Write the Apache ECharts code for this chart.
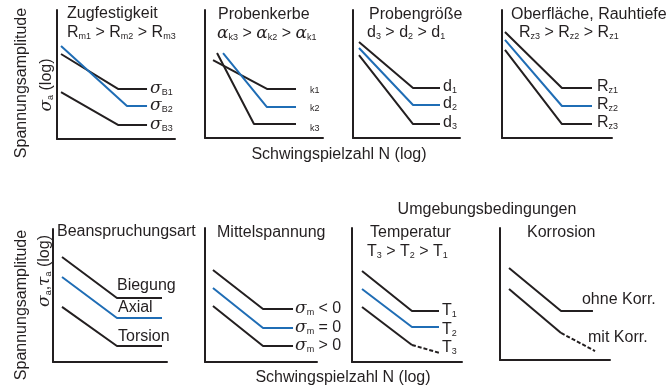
<!DOCTYPE html>
<html><head><meta charset="utf-8">
<script src="https://cdn.jsdelivr.net/npm/echarts@6/dist/echarts.min.js"></script>
<style>html,body{margin:0;padding:0;background:#fff}#c{width:672px;height:390px}</style>
</head><body><div id="c"></div>
<script>
// ---- data (log N, log sigma) on a 0..10 schematic scale ----
const zugB1 = [[0.34,6.59],[5.17,3.88],[7.63,3.88]];
const zugB2 = [[0.34,7.21],[5.93,2.56],[7.63,2.56]];
const zugB3 = [[0.34,3.64],[5.17,1.09],[7.63,1.09]];

const kerbK1 = [[0.68,6.09],[5.25,3.83],[7.71,3.83]];
const kerbK2 = [[1.53,6.64],[5.25,2.42],[7.71,2.42]];
const kerbK3 = [[1.02,6.64],[4.15,1.09],[7.71,1.09]];

const groesseD1 = [[0.56,7.50],[5.61,3.91],[8.13,3.91]];
const groesseD2 = [[0.56,7.03],[5.61,2.58],[8.13,2.58]];
const groesseD3 = [[0.56,6.48],[5.61,1.09],[8.13,1.09]];

const rauhRz1 = [[0.27,8.28],[5.45,3.91],[8.18,3.91]];
const rauhRz2 = [[0.27,7.66],[5.45,2.50],[8.18,2.50]];
const rauhRz3 = [[0.27,6.88],[5.45,1.09],[8.18,1.09]];

const artBiegung = [[0.79,7.89],[5.61,4.81],[9.56,4.81]];
const artAxial   = [[0.79,6.39],[5.61,3.31],[9.56,3.31]];
const artTorsion = [[0.79,4.14],[5.61,1.20],[9.56,1.20]];

const mittelNeg  = [[0.71,6.87],[5.18,3.96],[7.86,3.96]];
const mittelNull = [[0.71,5.52],[5.18,2.54],[7.86,2.54]];
const mittelPos  = [[0.71,4.18],[5.18,1.19],[7.86,1.19]];

const tempT1 = [[0.91,6.79],[5.45,3.81],[7.91,3.81]];
const tempT2 = [[0.91,5.45],[5.45,2.61],[7.91,2.61]];
const tempT3Solid  = [[0.91,4.10],[5.45,1.27]];
const tempT3Dashed = [[5.45,1.27],[8.00,0.67]];

const korrOhne = [[0.82,6.97],[5.55,3.71],[8.45,3.71]];
const korrMitSolid  = [[0.82,5.38],[5.55,2.05]];
const korrMitDashed = [[5.55,2.05],[8.64,0.68]];

// ---- styles ----
const FONT = 'Liberation Sans';
const BLACK = '#231f20', BLUE = '#1f6db5';
const rich = {
  m: {fontSize:16, fontFamily:FONT, color:BLACK, fill:BLACK, lineHeight:16, verticalAlign:'bottom'},
  s: {fontSize:9, fontFamily:FONT, color:BLACK, fill:BLACK, lineHeight:9, verticalAlign:'bottom'},
  g: {fontSize:17, fontFamily:'DejaVu Serif', fontStyle:'italic', color:BLACK, fill:BLACK, lineHeight:16, verticalAlign:'bottom'},
  k: {fontSize:9, fontFamily:FONT, color:BLACK, fill:BLACK, lineHeight:10}
};

const grids = [
  {left:57,  top:10,  width:118, height:129},
  {left:205, top:10,  width:118, height:128},
  {left:353, top:10,  width:107, height:128},
  {left:502, top:10,  width:110, height:128},
  {left:53,  top:229, width:114, height:133},
  {left:205, top:228, width:112, height:134},
  {left:352, top:228, width:110, height:134},
  {left:500, top:228, width:110, height:132}
];
const axisCommon = {type:'value', min:0, max:10,
  axisLine:{show:true, onZero:false, lineStyle:{color:BLACK, width:2}},
  axisTick:{show:false}, axisLabel:{show:false}, splitLine:{show:false}};

const series = [];
function curve(g, data, color, text, offset, dashed) {
  series.push({
    type:'line', xAxisIndex:g, yAxisIndex:g, data:data, symbol:'none', silent:true,
    lineStyle:{color:color, width:2, type: dashed ? [4,2] : 'solid'},
    endLabel: text ? {show:true, formatter:text, distance:0, offset:offset || [0,0],
      align:'left', verticalAlign:'middle', rich:rich} : {show:false}
  });
}
curve(0, zugB1, BLACK, '{g|σ}{s|B1}', [3,0]);
curve(0, zugB2, BLUE,  '{g|σ}{s|B2}', [3,0]);
curve(0, zugB3, BLACK, '{g|σ}{s|B3}', [3,0]);

curve(1, kerbK1, BLACK, '{k|k1}', [14,2]);
curve(1, kerbK2, BLUE,  '{k|k2}', [14,1]);
curve(1, kerbK3, BLACK, '{k|k3}', [14,4]);

curve(2, groesseD1, BLACK, '{m|d}{s|1}', [3,-1]);
curve(2, groesseD2, BLUE,  '{m|d}{s|2}', [3,-1]);
curve(2, groesseD3, BLACK, '{m|d}{s|3}', [3,-1]);

curve(3, rauhRz1, BLACK, '{m|R}{s|z1}', [5,-1]);
curve(3, rauhRz2, BLUE,  '{m|R}{s|z2}', [5,-1]);
curve(3, rauhRz3, BLACK, '{m|R}{s|z3}', [5,-1]);

curve(4, artBiegung, BLACK, '{m|Biegung}', [-45,-12]);
curve(4, artAxial,   BLUE,  '{m|Axial}',   [-44,-10]);
curve(4, artTorsion, BLACK, '{m|Torsion}', [-44,-9]);

curve(5, mittelNeg,  BLACK, '{g|σ}{s|m}{m| < 0}', [2,0]);
curve(5, mittelNull, BLUE,  '{g|σ}{s|m}{m| = 0}', [2,0]);
curve(5, mittelPos,  BLACK, '{g|σ}{s|m}{m| > 0}', [2,0]);

curve(6, tempT1, BLACK, '{m|T}{s|1}', [3,0]);
curve(6, tempT2, BLUE,  '{m|T}{s|2}', [3,3]);
curve(6, tempT3Solid, BLACK, null);
curve(6, tempT3Dashed, BLACK, '{m|T}{s|3}', [2,-5], true);

curve(7, korrOhne, BLACK, '{m|ohne Korr.}', [-11,-11]);
curve(7, korrMitSolid, BLACK, null);
curve(7, korrMitDashed, BLACK, '{m|mit Korr.}', [-7,-13], true);

// ---- text ----
function txt(x, y, text, align, rotation) {
  return {type:'text', x:x, y:y, silent:true, rotation: rotation || 0,
    style:{text:text, fontSize:16, fontFamily:FONT, fill:BLACK, align:align || 'left', verticalAlign:'middle', rich:rich}};
}
const R90 = Math.PI / 2;
const graphics = [
  txt(67, 14, '{m|Zugfestigkeit}'),
  txt(67, 33, '{m|R}{s|m1}{m| > R}{s|m2}{m| > R}{s|m3}'),
  txt(218, 15, '{m|Probenkerbe}'),
  txt(217, 34, '{g|α}{s|k3}{m| > }{g|α}{s|k2}{m| > }{g|α}{s|k1}'),
  txt(369, 15, '{m|Probengröße}'),
  txt(367, 33, '{m|d}{s|3}{m| > d}{s|2}{m| > d}{s|1}'),
  txt(511, 15, '{m|Oberfläche, Rauhtiefe}'),
  txt(519, 33, '{m|R}{s|z3}{m| > R}{s|z2}{m| > R}{s|z1}'),
  txt(57, 232, '{m|Beanspruchungsart}'),
  txt(217, 233, '{m|Mittelspannung}'),
  txt(370, 233, '{m|Temperatur}'),
  txt(367, 252, '{m|T}{s|3}{m| > T}{s|2}{m| > T}{s|1}'),
  txt(527, 233, '{m|Korrosion}'),
  txt(487, 210, '{m|Umgebungsbedingungen}', 'center'),
  txt(339, 155, '{m|Schwingspielzahl N (log)}', 'center'),
  txt(343, 378, '{m|Schwingspielzahl N (log)}', 'center'),
  txt(22, 83, '{m|Spannungsamplitude}', 'center', R90),
  txt(47, 85, '{g|σ}{s|a}{m| (log)}', 'center', R90),
  txt(22, 305, '{m|Spannungsamplitude}', 'center', R90),
  txt(45, 271, '{g|σ}{s|a}{m|,}{g|τ}{s|a}{m| (log)}', 'center', R90)
];

const chart = echarts.init(document.getElementById('c'), null, {renderer:'canvas'});
chart.setOption({
  animation:false,
  backgroundColor:'#fff',
  grid: grids,
  xAxis: grids.map(function(_, i){ return Object.assign({gridIndex:i}, axisCommon); }),
  yAxis: grids.map(function(_, i){ return Object.assign({gridIndex:i}, axisCommon); }),
  series: series,
  graphic: graphics
});
</script></body></html>
